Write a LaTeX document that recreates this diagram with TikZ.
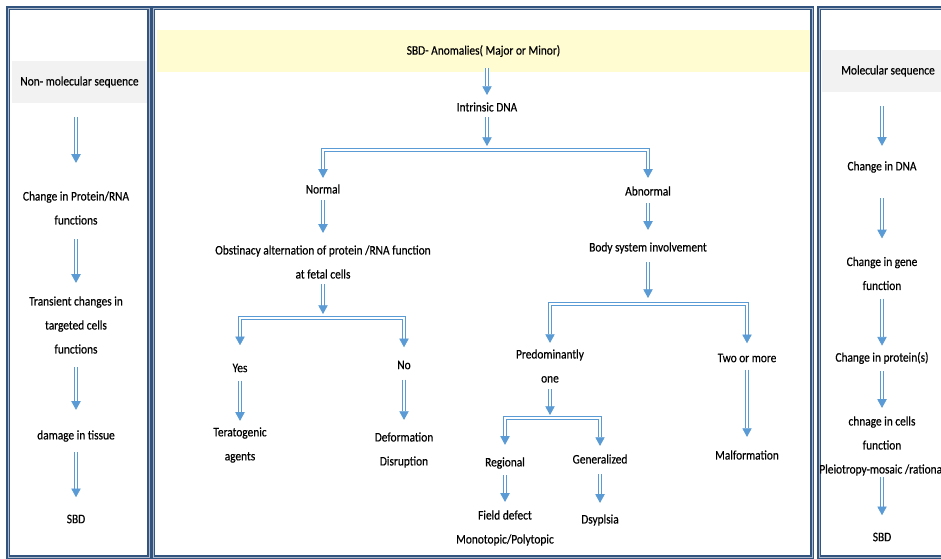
\documentclass[tikz,border=0pt]{standalone}
\usepackage{fontspec}
\setmainfont{Carlito}[FakeStretch=0.87,FakeBold=0.4]
\usetikzlibrary{arrows.meta}

\definecolor{arrblue}{RGB}{91,155,213}
\definecolor{framec}{RGB}{52,84,128}
\definecolor{bandgray}{RGB}{242,242,242}
\definecolor{bandyellow}{RGB}{255,252,210}

\tikzset{every picture/.style={line width=0.75pt}}
\tikzset{
  txt/.style={inner sep=0pt, align=center, font=\fontsize{9.8}{18}\selectfont},
  band/.style={txt, minimum height=31.5pt},
  panel/.style={draw=framec, line width=0.8pt, double=framec!40!white, double distance=0.7pt},
  dbl/.style={draw=arrblue, line width=0.55pt, double=white, double distance=1.5pt},
  arr/.style={dbl, -{Triangle[length=6.5pt,width=7pt]}},
  gap/.style 2 args={shorten <={#1*0.75pt}, shorten >={#2*0.75pt}}
}

\begin{document}
\begin{tikzpicture}[x=0.75pt,y=0.75pt,yscale=-1,xscale=1]
		\clip (0,0) rectangle (941,559);
		\fill[white] (0,0) rectangle (941,559);
		
		%Panels
		\draw[panel] (8,8) rectangle (149,557);
		\draw[panel] (153,8) rectangle (812,557);
		\draw[panel] (819,8) rectangle (985,557);
		
		% Text Node
		\node[band, fill=bandgray, minimum width=101.25pt] (nonmol) at (79.5,82) {Non- molecular sequence};
		% Text Node
		\node[band, fill=bandyellow, minimum width=489.75pt] (anom) at (483.5,51) {SBD- Anomalies( Major or Minor)};
		% Text Node
		\node[band, fill=bandgray, minimum width=99pt] (molseq) at (888,71) {Molecular sequence};
		
		% Text Node
		\node[txt] (lprot) at (76,208) {Change in Protein/RNA\\functions};
		% Text Node
		\node[txt] (ltrans) at (76,325) {Transient changes in\\targeted cells\\functions};
		% Text Node
		\node[txt] (ldamage) at (76,436) {damage in tissue};
		% Text Node
		\node[txt] (lsbd) at (76,519) {SBD};
		
		% Text Node
		\node[txt] (intr) at (487,107) {Intrinsic DNA};
		% Text Node
		\node[txt] (normal) at (323,189) {Normal};
		% Text Node
		\node[txt] (abnormal) at (648,191) {Abnormal};
		% Text Node
		\node[txt] (obst) at (323,262) {Obstinacy alternation of protein /RNA function\\at fetal cells};
		% Text Node
		\node[txt] (yes) at (240,368) {Yes};
		% Text Node
		\node[txt] (no) at (404,365) {No};
		% Text Node
		\node[txt] (terato) at (240,445) {Teratogenic\\agents};
		% Text Node
		\node[txt] (deform) at (404,450) {Deformation\\Disruption};
		% Text Node
		\node[txt] (body) at (648,248) {Body system involvement};
		% Text Node
		\node[txt] (predom) at (550,366) {Predominantly\\one};
		% Text Node
		\node[txt] (twomore) at (747,358) {Two or more};
		% Text Node
		\node[txt] (regional) at (505,463) {Regional};
		% Text Node
		\node[txt] (general) at (600,459) {Generalized};
		% Text Node
		\node[txt] (field) at (505,528) {Field defect\\Monotopic/Polytopic};
		% Text Node
		\node[txt] (dysp) at (600,520) {Dsyplsia};
		% Text Node
		\node[txt] (malform) at (747,455) {Malformation};
		
		% Text Node
		\node[txt] (rdna) at (882,167) {Change in DNA};
		% Text Node
		\node[txt] (rgene) at (882,273.5) {Change in gene\\function};
		% Text Node
		\node[txt] (rprot) at (882,358) {Change in protein(s)};
		% Text Node
		\node[txt] (rcell) at (882,446) {chnage in cells\\function\\Pleiotropy-mosaic /rational};
		% Text Node
		\node[txt] (rsbd) at (882,537) {SBD};
		
		%Branch points
		\coordinate (split1) at (487,150);
		\coordinate (split2) at (323,318);
		\coordinate (split3) at (648,304);
		\coordinate (split4) at (550,418);
		
		%Straight Lines (left column)
		\draw[arr, gap={14}{28}] (nonmol.south -| lprot) -- (lprot);
		\draw[arr, gap={14}{13}] (lprot) -- (ltrans);
		\draw[arr, gap={13}{20}] (ltrans) -- (ldamage);
		\draw[arr, gap={10}{17}] (ldamage) -- (lsbd);
		
		%Straight Lines (middle)
		\draw[arr, gap={-4}{7}] (anom.south -| intr) -- (intr);
		\draw[arr, gap={5}{4}] (intr) -- (split1);
		\draw[arr, gap={0}{6}] (split1) -| (normal);
		\draw[arr, gap={0}{8}] (split1) -| (abnormal);
		\draw[arr, gap={6}{12}] (normal) -- (obst);
		\draw[arr, gap={5}{4}] (obst) -- (split2);
		\draw[arr, gap={0}{18}] (split2) -| (yes);
		\draw[arr, gap={0}{13}] (split2) -| (no);
		\draw[arr, gap={8}{6}] (yes) -- (terato);
		\draw[arr, gap={10}{12}] (no) -- (deform);
		\draw[arr, gap={7}{12}] (abnormal) -- (body);
		\draw[arr, gap={8}{6}] (body) -- (split3);
		\draw[arr, gap={0}{6}] (split3) -| (predom);
		\draw[arr, gap={0}{10}] (split3) -| (twomore);
		\draw[arr, gap={6}{3}] (predom) -- (split4);
		\draw[arr, gap={0}{12}] (split4) -| (regional);
		\draw[arr, gap={0}{8}] (split4) -| (general);
		\draw[arr, gap={6}{8}] (regional) -- (field);
		\draw[arr, gap={10}{11}] (general) -- (dysp);
		\draw[arr, gap={7}{13}] (twomore) -- (malform);
		
		%Straight Lines (right column)
		\draw[arr, gap={14}{15}] (molseq.south -| rdna) -- (rdna);
		\draw[arr, gap={25}{18}] (rdna) -- (rgene);
		\draw[arr, gap={8}{6}] (rgene) -- (rprot);
		\draw[arr, gap={7}{8}] (rprot) -- (rcell);
		\draw[arr, gap={1}{17}] (rcell) -- (rsbd);
		
\end{tikzpicture}
\end{document}
